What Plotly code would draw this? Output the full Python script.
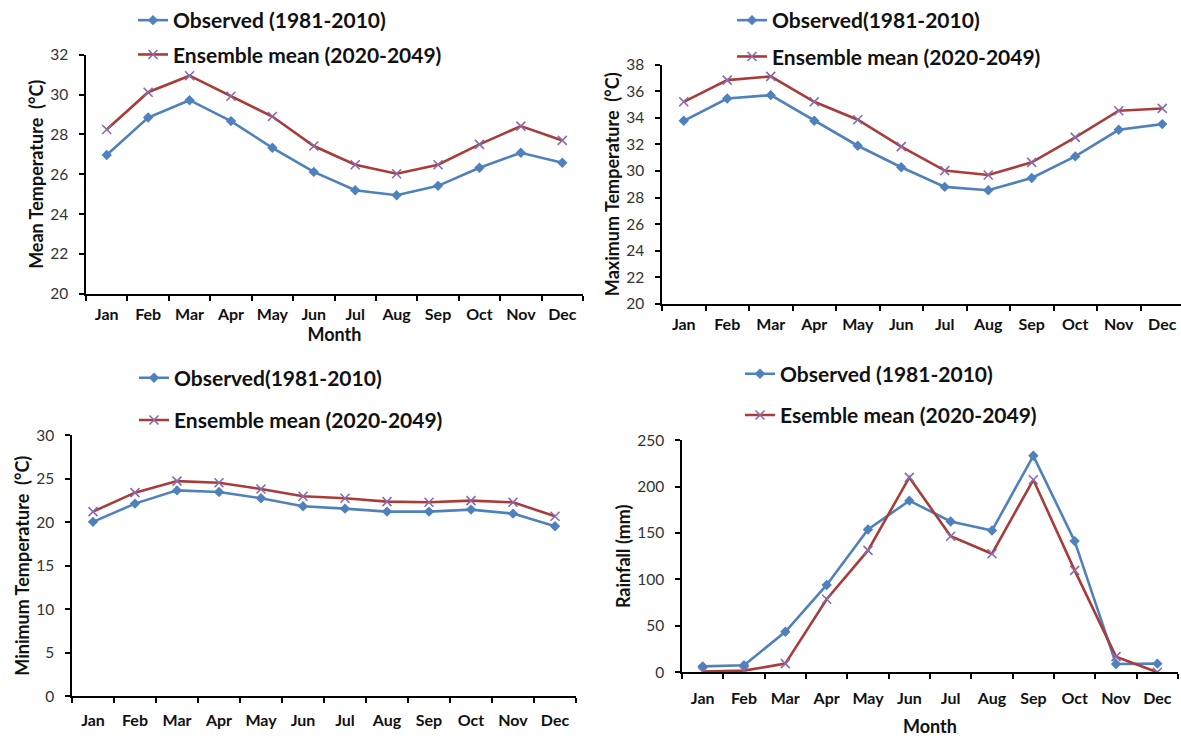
import plotly.graph_objects as go

W, H = 1181, 740

months = ["Jan", "Feb", "Mar", "Apr", "May", "Jun", "Jul", "Aug", "Sep", "Oct", "Nov", "Dec"]

# Mean temperature (°C)
mean_obs = [26.97, 28.85, 29.72, 28.67, 27.33, 26.12, 25.2, 24.95, 25.42, 26.33, 27.08, 26.58]
mean_ens = [28.25, 30.12, 30.95, 29.92, 28.9, 27.42, 26.48, 26.03, 26.48, 27.5, 28.42, 27.7]

# Maximum temperature (°C)
max_obs = [33.78, 35.46, 35.71, 33.78, 31.9, 30.28, 28.8, 28.55, 29.47, 31.1, 33.1, 33.53]
max_ens = [35.21, 36.84, 37.12, 35.21, 33.86, 31.83, 30.03, 29.7, 30.65, 32.53, 34.54, 34.71]

# Minimum temperature (°C)
min_obs = [20.04, 22.14, 23.66, 23.47, 22.75, 21.83, 21.56, 21.22, 21.22, 21.45, 20.99, 19.54]
min_ens = [21.22, 23.4, 24.73, 24.54, 23.82, 22.98, 22.75, 22.37, 22.29, 22.48, 22.29, 20.69]

# Rainfall (mm)
rain_obs = [6.4, 7.5, 43.6, 94.1, 153.8, 184.9, 162.4, 152.7, 233.2, 141.3, 8.9, 9.3]
rain_ens = [0.7, 1.8, 9.3, 78.7, 131.3, 209.9, 146.6, 127.7, 207.4, 109.8, 16.8, 0.0]

BLUE = "#4F81BD"
RED = "#A93C39"
PURPLE = "#8A6AAE"
FONT = "Lato"


def fx(px):
    return px / W


def fy(py):
    return 1 - py / H


fig = go.Figure()

panels = [
    # (suffix, obs, ens, obs label, ens label, x px span, y px span, y range, dtick, y title, x title, x range)
    ("", mean_obs, mean_ens, "Observed (1981-2010)", "Ensemble mean (2020-2049)",
     (86, 583), (52, 292), (20, 32), 2, "Mean Temperature  (°C)", "Month", (-0.5, 11.5)),
    ("2", max_obs, max_ens, "Observed(1981-2010)", "Ensemble mean (2020-2049)",
     (662, 1181), (62, 302), (20, 38), 2, "Maximum Temperature  (°C)", None,
     (-0.5, -0.5 + (1181 - 662) / 43.5)),
    ("3", min_obs, min_ens, "Observed(1981-2010)", "Ensemble mean (2020-2049)",
     (72, 576), (434, 696), (0, 30), 5, "Minimum Temperature  (°C)", None, (-0.5, 11.5)),
    ("4", rain_obs, rain_ens, "Observed (1981-2010)", "Esemble mean (2020-2049)",
     (682, 1178), (439, 672), (0, 250), 50, "Rainfall (mm)", "Month", (-0.5, 11.5)),
]

# legend anchor (px) and gap between its two entries
legend_pos = [(133, -3, 4), (732, -3, 6), (134, 356, 12), (740, 352, 11)]
# x tick label offsets below each panel, and x title offsets
xlabel_standoff = [5, 5, 9, 11]
xtitle_standoff = [6, 6, 6, 14]

for i, (sfx, obs, ens, lab_o, lab_e, xr, yr, yrange, dtick, ytitle, xtitle, xrange_) in enumerate(panels):
    xa = "x" + sfx
    ya = "y" + sfx
    lg = "legend" + sfx
    fig.add_trace(go.Scatter(
        x=months, y=obs, mode="lines+markers", name=lab_o,
        line=dict(color=BLUE, width=2.6),
        marker=dict(symbol="diamond", size=8, color=BLUE),
        xaxis=xa, yaxis=ya, legend=lg, legendgroup=f"o{i}",
    ))
    fig.add_trace(go.Scatter(
        x=months, y=ens, mode="lines+markers", name=lab_e,
        line=dict(color=RED, width=2.6),
        marker=dict(symbol="x-thin", size=9, color=PURPLE, line=dict(color=PURPLE, width=1.6)),
        xaxis=xa, yaxis=ya, legend=lg, legendgroup=f"e{i}",
    ))

    xkey = "xaxis" + sfx
    ykey = "yaxis" + sfx
    fig.layout[xkey] = dict(
        domain=[fx(xr[0]), fx(xr[1])], anchor=ya, type="category",
        categoryorder="array", categoryarray=months, range=list(xrange_),
        showline=True, linecolor="#000000", linewidth=1.5,
        ticks="outside", tickson="boundaries", ticklen=5, tickwidth=1.5, tickcolor="#000000",
        showgrid=False, zeroline=False, automargin=False,
        ticklabelstandoff=xlabel_standoff[i],
        tickfont=dict(family=FONT, size=16, color="#111111", weight="bold"),
        title=dict(text=xtitle, font=dict(family=FONT, size=18, color="#111111", weight="bold"),
                   standoff=xtitle_standoff[i]) if xtitle else None,
    )
    fig.layout[ykey] = dict(
        domain=[fy(yr[1]), fy(yr[0])], anchor=xa, range=list(yrange), dtick=dtick,
        showline=True, linecolor="#000000", linewidth=1.5,
        ticks="outside", ticklen=5, tickwidth=1.5, tickcolor="#000000",
        showgrid=False, zeroline=False, automargin=False,
        ticklabelstandoff=8,
        tickfont=dict(family=FONT, size=15.5, color="#333333"),
        title=dict(text=ytitle, font=dict(family=FONT, size=18, color="#111111", weight="bold"),
                   standoff=2),
    )
    lx, ly, gap = legend_pos[i]
    fig.layout[lg] = dict(
        x=fx(lx), y=fy(ly), xanchor="left", yanchor="top",
        xref="paper", yref="paper",
        font=dict(family=FONT, size=21, color="#111111", weight="bold"),
        bgcolor="rgba(0,0,0,0)", traceorder="grouped", tracegroupgap=gap,
        itemwidth=30,
    )

fig.update_layout(
    width=W, height=H, margin=dict(l=0, r=0, t=0, b=0),
    paper_bgcolor="white", plot_bgcolor="white", showlegend=True,
)

fig.write_html("out.html")
